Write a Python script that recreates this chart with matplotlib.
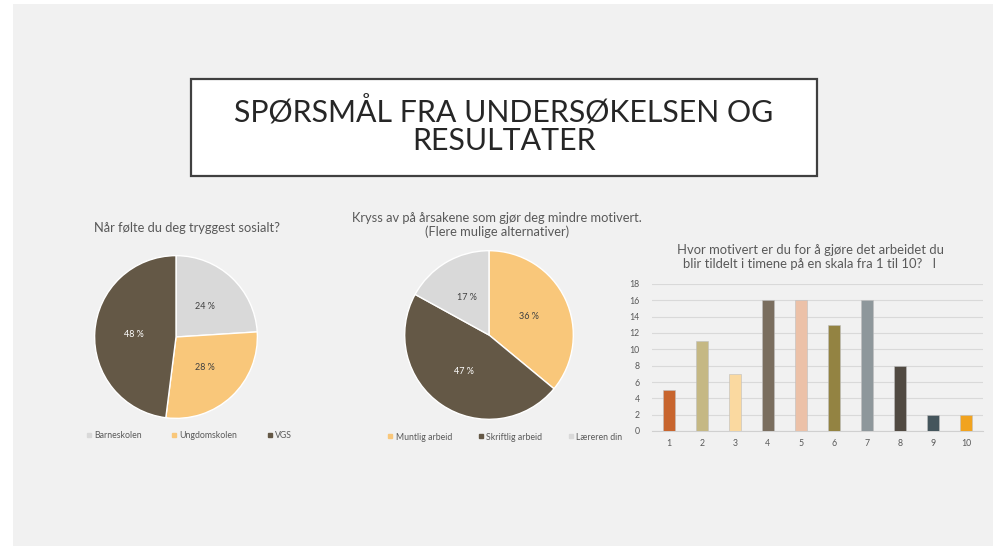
import matplotlib
matplotlib.use("Agg")
import matplotlib.pyplot as plt
from matplotlib.patches import Rectangle
from matplotlib.lines import Line2D

plt.rcParams['font.family'] = ['Lato', 'DejaVu Sans']

W, H = 1001, 549

# ---- data ----
title_text = "SPØRSMÅL FRA UNDERSØKELSEN OG\nRESULTATER"

pie1_title = "Når følte du deg tryggest sosialt?"
pie1_labels = ["Barneskolen", "Ungdomskolen", "VGS"]
pie1_values = [24, 28, 48]
pie1_colors = ["#d9d9d9", "#f9c77a", "#645846"]

pie2_title = "Kryss av på årsakene som gjør deg mindre motivert.\n(Flere mulige alternativer)"
pie2_labels = ["Muntlig arbeid", "Skriftlig arbeid", "Læreren din"]
pie2_values = [36, 47, 17]
pie2_colors = ["#f9c77a", "#645846", "#d9d9d9"]

bar_title = "Hvor motivert er du for å gjøre det arbeidet du\nblir tildelt i timene på en skala fra 1 til 10?   I"
bar_categories = ["1", "2", "3", "4", "5", "6", "7", "8", "9", "10"]
bar_values = [5, 11, 7, 16, 16, 13, 16, 8, 2, 2]
bar_colors = ["#c8652e", "#c5b884", "#fad9a0", "#7a6e5f", "#ecc1a8",
              "#938342", "#8e979b", "#514a42", "#44555c", "#f1a31f"]
bar_yticks = [0, 2, 4, 6, 8, 10, 12, 14, 16, 18]

TXT = "#595959"

fig = plt.figure(figsize=(W / 100, H / 100), dpi=100)
fig.patch.set_facecolor("white")


def fx(x):
    return x / W


def fy(y):
    return 1 - y / H


# slide background
fig.patches.append(Rectangle((fx(13), fy(546)), fx(993 - 13), (546 - 4) / H,
                             transform=fig.transFigure, facecolor="#f1f1f1",
                             edgecolor="none", zorder=-5))
# title box
fig.patches.append(Rectangle((fx(191), fy(176)), fx(817 - 191), (176 - 79) / H,
                             transform=fig.transFigure, facecolor="white",
                             edgecolor="#404040", linewidth=1.6, zorder=-4))
fig.text(fx(504), fy(125.5), title_text, ha="center", va="center", fontsize=21.8,
         color="#262626", linespacing=1.05, zorder=2)


def make_pie(cx, cy, r, values, colors, labels, title, title_x, title_y, white_idx,
             legend_x, legend_y, colsp):
    ax = fig.add_axes([fx(cx - r), fy(cy + r), 2 * r / W, 2 * r / H])
    ax.set_zorder(3)
    wedges, texts, autotexts = ax.pie(values, colors=colors, startangle=90, counterclock=False,
                                      autopct=lambda p: f"{p:.0f} %", pctdistance=0.52,
                                      wedgeprops=dict(edgecolor="white", linewidth=1.0),
                                      textprops=dict(fontsize=6.5, color="#404040"))
    for i, t in enumerate(autotexts):
        if i == white_idx:
            t.set_color("white")
    ax.set_xlim(-1.02, 1.02)
    ax.set_ylim(-1.02, 1.02)
    ax.set_aspect("equal")
    ax.axis("off")
    fig.text(fx(title_x), fy(title_y), title, ha="center", va="center", fontsize=9.3,
             color=TXT, linespacing=1.15)
    handles = [Line2D([], [], marker="s", linestyle="none", markersize=3,
                      markerfacecolor=c, markeredgecolor=c) for c in colors]
    fig.legend(handles, labels, loc="center", bbox_to_anchor=(fx(legend_x), fy(legend_y)),
               ncol=3, frameon=False, fontsize=6.3, handlelength=0.6, handletextpad=0.3,
               columnspacing=colsp, labelcolor=TXT)


make_pie(176, 337, 83, pie1_values, pie1_colors, pie1_labels, pie1_title, 187, 228, 2, 189, 436, 3.4)
make_pie(489, 335, 86, pie2_values, pie2_colors, pie2_labels, pie2_title, 497, 225, 1, 505, 437, 3.0)

# bar chart
bx = fig.add_axes([fx(652), fy(431), fx(983 - 652), (431 - 284) / H])
bx.set_zorder(3)
bx.set_facecolor("none")
xs = list(range(len(bar_categories)))
bx.bar(xs, bar_values, width=0.36, color=bar_colors, edgecolor="#bfbfbf", linewidth=0.4, zorder=3)
bx.set_xlim(-0.5, len(bar_categories) - 0.5)
bx.set_ylim(0, 18)
bx.set_yticks(bar_yticks)
bx.set_xticks(xs)
bx.set_xticklabels(bar_categories)
bx.tick_params(axis="both", length=0, labelsize=6.3, labelcolor=TXT)
bx.tick_params(axis="y", pad=9)
bx.tick_params(axis="x", pad=6)
bx.grid(axis="y", color="#d9d9d9", linewidth=0.8, zorder=0)
for s in ["top", "right", "left"]:
    bx.spines[s].set_visible(False)
bx.spines["bottom"].set_color("#d0d0d0")
bx.spines["bottom"].set_linewidth(0.8)
fig.text(fx(810), fy(257), bar_title, ha="center", va="center", fontsize=9.4,
         color=TXT, linespacing=1.15)

fig.savefig("out.png", dpi=100, facecolor="white")
